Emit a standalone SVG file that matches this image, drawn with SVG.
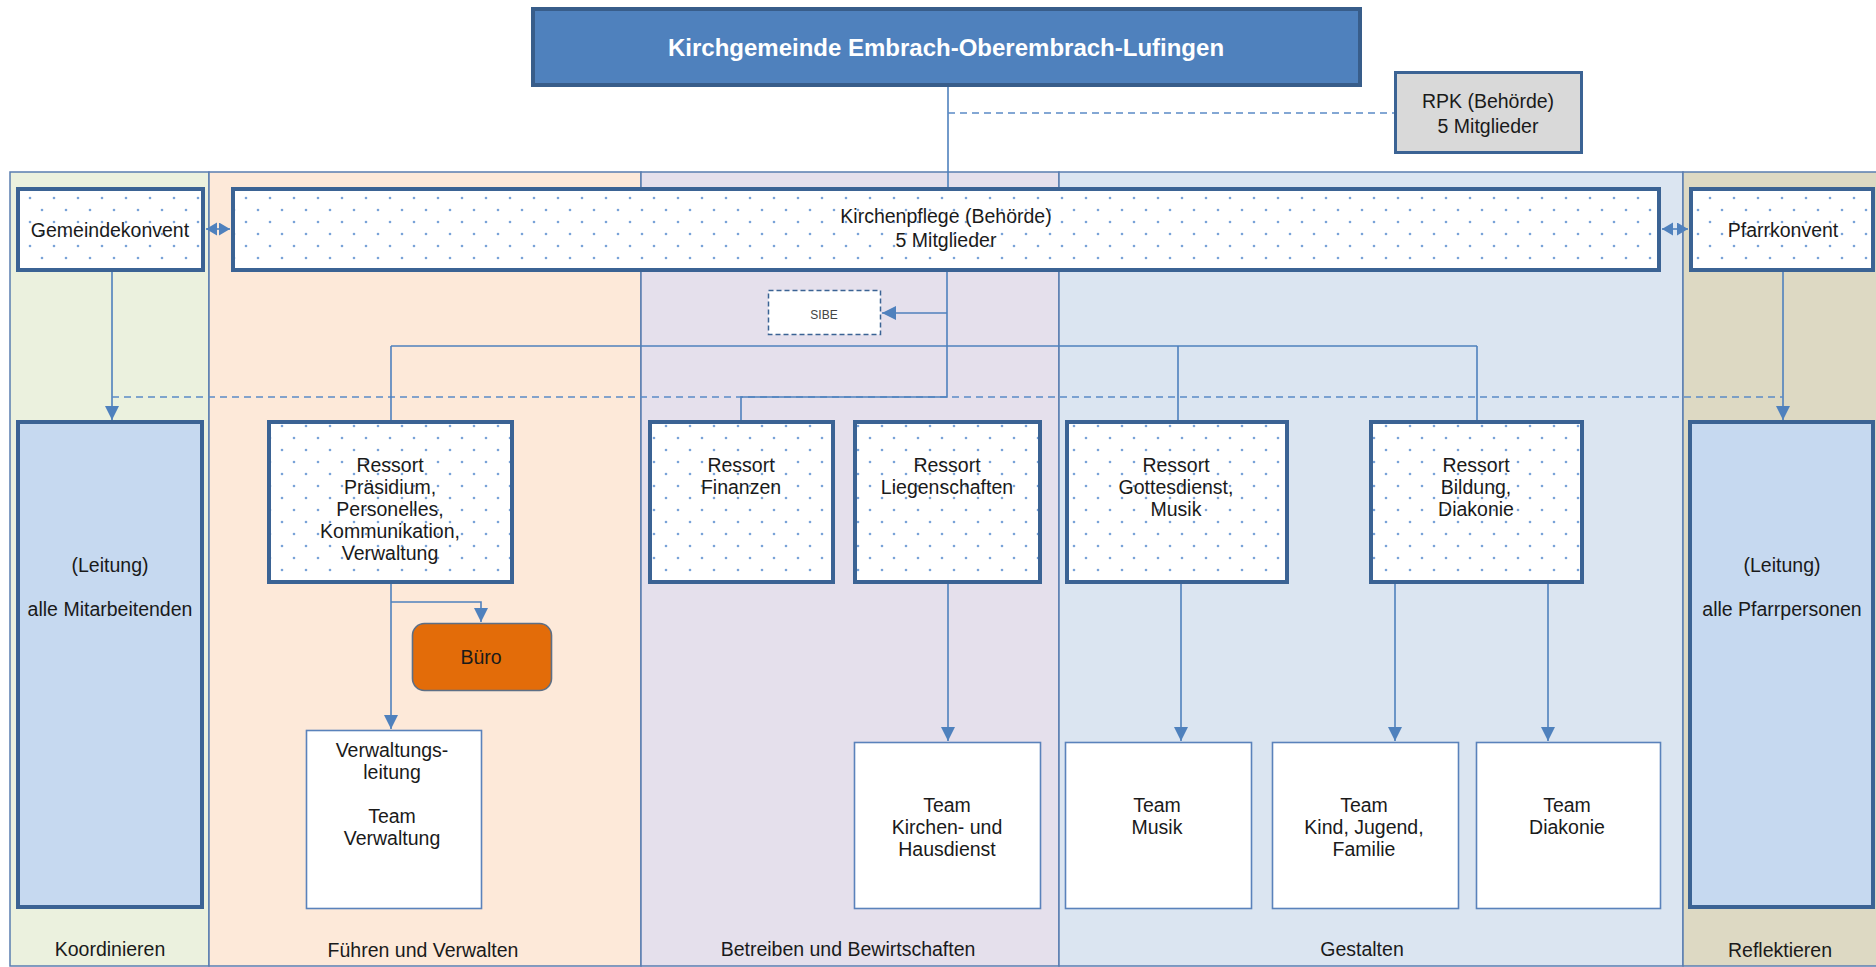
<svg xmlns="http://www.w3.org/2000/svg" width="1876" height="967" viewBox="0 0 1876 967">
<style>
.t{font-family:"Liberation Sans",Arial,sans-serif;font-size:19.5px;fill:#1a1a1a;text-anchor:middle}
.thick{stroke:#3b6394;stroke-width:4}
.dot{fill:url(#dots)}
.team{fill:#fff;stroke:#5a82bb;stroke-width:1.6}
.c{fill:none;stroke:#4f81bd;stroke-width:1.6}
.d{fill:none;stroke:#5b8ac6;stroke-width:1.6;stroke-dasharray:7,5}
.lane{stroke:#5a7db0;stroke-width:1.5}
</style>
<defs>
<pattern id="dots" width="24" height="24" patternUnits="userSpaceOnUse">
<rect width="24" height="24" fill="#fff"/>
<circle cx="6" cy="6" r="1.3" fill="#79a3d8"/>
<circle cx="18" cy="18" r="1.3" fill="#79a3d8"/>
</pattern>
<marker id="arr" markerUnits="userSpaceOnUse" markerWidth="15" markerHeight="15" refX="14" refY="7" orient="auto">
<path d="M0,0 L14,7 L0,14 z" fill="#4f81bd"/>
</marker>
<marker id="sm" markerUnits="userSpaceOnUse" markerWidth="12" markerHeight="14" refX="11" refY="6.5" orient="auto-start-reverse">
<path d="M0,0 L11,6.5 L0,13 z" fill="#4f81bd"/>
</marker>
</defs>

<g id="lanes">
<rect x="10" y="172" width="199" height="794" fill="#ebf1de" class="lane"/>
<rect x="209" y="172" width="432" height="794" fill="#fde9d9" class="lane"/>
<rect x="641" y="172" width="418" height="794" fill="#e5e0ec" class="lane"/>
<rect x="1059" y="172" width="624" height="794" fill="#dbe5f1" class="lane"/>
<rect x="1683" y="172" width="200" height="794" fill="#ddd9c3" class="lane"/>
<text class="t" x="110" y="956">Koordinieren</text>
<text class="t" x="423" y="957">Führen und Verwalten</text>
<text class="t" x="848" y="956">Betreiben und Bewirtschaften</text>
<text class="t" x="1362" y="956">Gestalten</text>
<text class="t" x="1780" y="957">Reflektieren</text>
</g>

<g id="connectors">
<path class="c" d="M948,87 V187"/>
<path class="d" d="M948,113 H1394"/>
<path class="c" d="M206,229 H230" marker-start="url(#sm)" marker-end="url(#sm)"/>
<path class="c" d="M1662,229 H1688" marker-start="url(#sm)" marker-end="url(#sm)"/>
<path class="c" d="M112,272 V420" marker-end="url(#arr)"/>
<path class="c" d="M1783,272 V420" marker-end="url(#arr)"/>
<path class="d" d="M112,397 H1783"/>
<path class="c" d="M947,272 V397 H741 V420"/>
<path class="c" d="M947,313 H882" marker-end="url(#arr)"/>
<path class="c" d="M391,346 H1477 M391,346 V420 M1178,346 V420 M1477,346 V420"/>
<path class="c" d="M391,584 V729" marker-end="url(#arr)"/>
<path class="c" d="M391,602 H481 V622" marker-end="url(#arr)"/>
<path class="c" d="M948,584 V741" marker-end="url(#arr)"/>
<path class="c" d="M1181,584 V741" marker-end="url(#arr)"/>
<path class="c" d="M1395,584 V741" marker-end="url(#arr)"/>
<path class="c" d="M1548,584 V741" marker-end="url(#arr)"/>
</g>

<g id="kirchgemeinde">
<rect x="533" y="9" width="827" height="76" fill="#4f81bd" stroke="#385d8a" stroke-width="4"/>
<text class="t" x="946" y="56" style="font-size:24px;font-weight:bold;fill:#fff">Kirchgemeinde Embrach-Oberembrach-Lufingen</text>
</g>

<g id="rpk">
<rect x="1395.5" y="72.5" width="186" height="80" fill="#d9d9d9" stroke="#3b6394" stroke-width="3"/>
<text class="t" x="1488" y="108">RPK (Behörde)</text>
<text class="t" x="1488" y="133">5 Mitglieder</text>
</g>

<g id="gemeindekonvent">
<rect x="18" y="189" width="185" height="81" class="dot thick"/>
<text class="t" x="110" y="237">Gemeindekonvent</text>
</g>

<g id="kirchenpflege">
<rect x="233" y="189" width="1426" height="81" class="dot thick"/>
<text class="t" x="946" y="223">Kirchenpflege (Behörde)</text>
<text class="t" x="946" y="247">5 Mitglieder</text>
</g>

<g id="pfarrkonvent">
<rect x="1691" y="189" width="182" height="81" class="dot thick"/>
<text class="t" x="1783" y="237">Pfarrkonvent</text>
</g>

<g id="sibe">
<rect x="768.5" y="290.5" width="112" height="44" fill="#fff" stroke="#3b6394" stroke-width="1.5" stroke-dasharray="5,3"/>
<text class="t" x="824" y="319" style="font-size:12px;fill:#444">SIBE</text>
</g>

<g id="leitung-mitarbeitende">
<rect x="18" y="422" width="184" height="485" fill="#c6d9f0" class="thick"/>
<text class="t" x="110" y="572">(Leitung)</text>
<text class="t" x="110" y="616">alle Mitarbeitenden</text>
</g>

<g id="leitung-pfarrpersonen">
<rect x="1690" y="422" width="183" height="485" fill="#c6d9f0" class="thick"/>
<text class="t" x="1782" y="572">(Leitung)</text>
<text class="t" x="1782" y="616">alle Pfarrpersonen</text>
</g>

<g id="ressort-praesidium">
<rect x="269" y="422" width="243" height="160" class="dot thick"/>
<text class="t" x="390" y="472">Ressort</text>
<text class="t" x="390" y="494">Präsidium,</text>
<text class="t" x="390" y="516">Personelles,</text>
<text class="t" x="390" y="538">Kommunikation,</text>
<text class="t" x="390" y="560">Verwaltung</text>
</g>

<g id="ressort-finanzen">
<rect x="650" y="422" width="183" height="160" class="dot thick"/>
<text class="t" x="741" y="472">Ressort</text>
<text class="t" x="741" y="494">Finanzen</text>
</g>

<g id="ressort-liegenschaften">
<rect x="855" y="422" width="185" height="160" class="dot thick"/>
<text class="t" x="947" y="472">Ressort</text>
<text class="t" x="947" y="494">Liegenschaften</text>
</g>

<g id="ressort-gottesdienst">
<rect x="1067" y="422" width="220" height="160" class="dot thick"/>
<text class="t" x="1176" y="472">Ressort</text>
<text class="t" x="1176" y="494">Gottesdienst,</text>
<text class="t" x="1176" y="516">Musik</text>
</g>

<g id="ressort-bildung">
<rect x="1371" y="422" width="211" height="160" class="dot thick"/>
<text class="t" x="1476" y="472">Ressort</text>
<text class="t" x="1476" y="494">Bildung,</text>
<text class="t" x="1476" y="516">Diakonie</text>
</g>

<g id="buero">
<rect x="412.5" y="623.5" width="139" height="67" rx="12" fill="#e36c09" stroke="#5d6f86" stroke-width="1.6"/>
<text class="t" x="481" y="664">Büro</text>
</g>

<g id="team-verwaltung">
<rect x="306.5" y="730.5" width="175" height="178" class="team"/>
<text class="t" x="392" y="757">Verwaltungs-</text>
<text class="t" x="392" y="779">leitung</text>
<text class="t" x="392" y="823">Team</text>
<text class="t" x="392" y="845">Verwaltung</text>
</g>

<g id="team-kirchen">
<rect x="854.5" y="742.5" width="186" height="166" class="team"/>
<text class="t" x="947" y="812">Team</text>
<text class="t" x="947" y="834">Kirchen- und</text>
<text class="t" x="947" y="856">Hausdienst</text>
</g>

<g id="team-musik">
<rect x="1065.5" y="742.5" width="186" height="166" class="team"/>
<text class="t" x="1157" y="812">Team</text>
<text class="t" x="1157" y="834">Musik</text>
</g>

<g id="team-kind">
<rect x="1272.5" y="742.5" width="186" height="166" class="team"/>
<text class="t" x="1364" y="812">Team</text>
<text class="t" x="1364" y="834">Kind, Jugend,</text>
<text class="t" x="1364" y="856">Familie</text>
</g>

<g id="team-diakonie">
<rect x="1476.5" y="742.5" width="184" height="166" class="team"/>
<text class="t" x="1567" y="812">Team</text>
<text class="t" x="1567" y="834">Diakonie</text>
</g>
</svg>
